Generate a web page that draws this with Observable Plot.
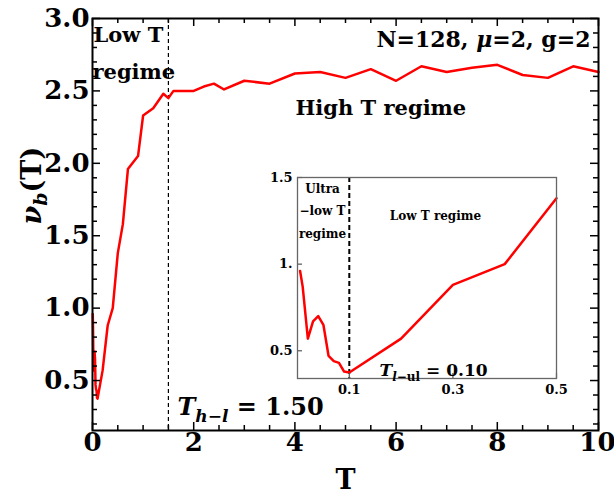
<!DOCTYPE html>
<html>
<head>
<meta charset="utf-8">
<script src="https://cdn.jsdelivr.net/npm/d3@7"></script>
<script src="https://cdn.jsdelivr.net/npm/@observablehq/plot@0.6"></script>
<style>
  html, body { margin: 0; padding: 0; background: #fff; }
  #wrap { position: relative; width: 614px; height: 497px; }
  #inset { position: absolute; left: 250px; top: 160px; }
</style>
</head>
<body>
<div id="wrap"><div id="main"></div><div id="inset"></div></div>
<script>
// ---- data ----
const T = [0.005, 0.01, 0.02, 0.03, 0.04, 0.05, 0.06, 0.07, 0.08, 0.09, 0.1,
  0.2, 0.3, 0.4, 0.5, 0.6, 0.7, 0.9, 1.0, 1.2, 1.4, 1.5, 1.6, 2.0, 2.2, 2.4, 2.6,
  3.0, 3.5, 4.0, 4.5, 5.0, 5.5, 6.0, 6.5, 7.0, 7.5, 8.0, 8.5, 9.0, 9.5, 10.0];
const vb = [0.96, 0.87, 0.57, 0.67, 0.70, 0.65, 0.47, 0.44, 0.43, 0.38, 0.375,
  0.57, 0.88, 1.00, 1.38, 1.58, 1.96, 2.05, 2.33, 2.38, 2.48, 2.45, 2.50, 2.50, 2.53, 2.55, 2.51,
  2.57, 2.55, 2.62, 2.63, 2.59, 2.65, 2.57, 2.67, 2.63, 2.66, 2.68, 2.61, 2.59, 2.67, 2.63];

const xMajor = [0, 2, 4, 6, 8, 10];
const xMinor = [0.5, 1, 1.5, 2.5, 3, 3.5, 4.5, 5, 5.5, 6.5, 7, 7.5, 8.5, 9, 9.5];
const yMajor = [0.5, 1.0, 1.5, 2.0, 2.5, 3.0];
const yMinor = [0.2, 0.3, 0.4, 0.6, 0.7, 0.8, 0.9, 1.1, 1.2, 1.3, 1.4, 1.6, 1.7, 1.8, 1.9,
  2.1, 2.2, 2.3, 2.4, 2.6, 2.7, 2.8, 2.9];
const insetX = [0.1, 0.3, 0.5];
const insetXLabels = ["0.1", "0.3", "0.5"];
const insetY = [0.5, 1.0, 1.5];
const insetYLabels = ["0.5", "1.", "1.5"];

const Thl = 1.5;   // high-low boundary
const Tlul = 0.1;  // low-ultralow boundary

const data = T.map((t, i) => ({T: t, v: vb[i]}));
const insetData = data.filter(d => d.T <= 0.5);

const FONT = "DejaVu Serif";

// ---- main chart ----
const W = 614, H = 497, mL = 92, mR = 16, mT = 18, mB = 67;
const pH = H - mT - mB, pW = W - mL - mR;
const xInner = xMajor.slice(0, -1), xLast = xMajor.slice(-1);

const main = Plot.plot({
  width: W, height: H, marginLeft: mL, marginRight: mR, marginTop: mT, marginBottom: mB,
  x: {domain: [0, 10]},
  y: {domain: [0.155, 3.0]},
  style: {fontFamily: FONT, fontWeight: "bold", fontSize: "26px", background: "white", color: "black", overflow: "visible"},
  marks: [
    Plot.ruleX([Thl], {stroke: "black", strokeWidth: 1.2, strokeDasharray: "4,3"}),
    Plot.line(data, {x: "T", y: "v", stroke: "#ff0000", strokeWidth: 2.5}),
    // inward ticks: bottom & top
    Plot.tickX(xMajor, {x: d => d, insetTop: pH - 8, stroke: "black", strokeWidth: 1.5}),
    Plot.tickX(xMinor, {x: d => d, insetTop: pH - 5, stroke: "black", strokeWidth: 1.5}),
    Plot.tickX(xMajor, {x: d => d, insetBottom: pH - 8, stroke: "black", strokeWidth: 1.5}),
    Plot.tickX(xMinor, {x: d => d, insetBottom: pH - 5, stroke: "black", strokeWidth: 1.5}),
    // inward ticks: left & right
    Plot.tickY(yMajor, {y: d => d, insetRight: pW - 8, stroke: "black", strokeWidth: 1.5}),
    Plot.tickY(yMinor, {y: d => d, insetRight: pW - 5, stroke: "black", strokeWidth: 1.5}),
    Plot.tickY(yMajor, {y: d => d, insetLeft: pW - 8, stroke: "black", strokeWidth: 1.5}),
    Plot.tickY(yMinor, {y: d => d, insetLeft: pW - 5, stroke: "black", strokeWidth: 1.5}),
    Plot.axisX(xInner, {tickSize: 0, tickPadding: 2, tickFormat: d => String(d), label: null, fontSize: 26, fontWeight: "bold"}),
    Plot.axisX(xLast, {tickSize: 0, tickPadding: 2, tickFormat: d => String(d), label: null, fontSize: 26, fontWeight: "bold", textAnchor: "end", dx: 17}),
    Plot.axisY(yMajor, {tickSize: 0, tickPadding: 3, tickFormat: d3.format(".1f"), label: null, fontSize: 26, fontWeight: "bold"}),
    Plot.frame({stroke: "black", strokeWidth: 2}),
    // axis titles
    Plot.text(["T"], {frameAnchor: "bottom", dy: 58, fontSize: 27, fontWeight: "bold"}),
    Plot.text(["@YLAB"], {frameAnchor: "left", dx: -60, rotate: -90, fontSize: 27, fontWeight: "bold"}),
    // annotations
    Plot.text(["Low T"], {frameAnchor: "top-left", dx: 1, dy: 9, textAnchor: "start", fontSize: 21, fontWeight: "bold"}),
    Plot.text(["regime"], {frameAnchor: "top-left", dx: 0, dy: 46, textAnchor: "start", fontSize: 21, fontWeight: "bold"}),
    Plot.text(["N=128, @MU=2, g=2"], {frameAnchor: "top-right", dx: -8, dy: 13, textAnchor: "end", fontSize: 22, fontWeight: "bold"}),
    Plot.text(["High T regime"], {frameAnchor: "top-left", dx: 203, dy: 82, textAnchor: "start", fontSize: 21, fontWeight: "bold"}),
    Plot.text(["@THL"], {frameAnchor: "bottom-left", dx: 85, dy: -16, textAnchor: "start", fontSize: 24, fontWeight: "bold"})
  ]
});
document.getElementById("main").appendChild(main);

// ---- inset ----
const iW = 320, iH = 240, imL = 47, imR = 14, imT = 17, imB = 22;
const ipH = iH - imT - imB, ipW = iW - imL - imR;
const inset = Plot.plot({
  width: iW, height: iH, marginLeft: imL, marginRight: imR, marginTop: imT, marginBottom: imB,
  x: {domain: [0, 0.5]},
  y: {domain: [0.34, 1.5]},
  style: {fontFamily: FONT, fontWeight: "bold", fontSize: "13px", background: "transparent", color: "black", overflow: "visible"},
  marks: [
    Plot.frame({fill: "white", stroke: "none"}),
    Plot.ruleX([Tlul], {stroke: "black", strokeWidth: 2, strokeDasharray: "5,3"}),
    Plot.line(insetData, {x: "T", y: "v", stroke: "#ff0000", strokeWidth: 2.5}),
    Plot.tickX(insetX, {x: d => d, insetTop: ipH - 5, stroke: "#555", strokeWidth: 1.2}),
    Plot.tickY(insetY, {y: d => d, insetRight: ipW - 5, stroke: "#555", strokeWidth: 1.2}),
    Plot.axisX(insetX, {tickSize: 0, tickPadding: 6, tickFormat: (d, i) => insetXLabels[i], label: null, fontSize: 13, fontWeight: "bold"}),
    Plot.axisY(insetY, {tickSize: 0, tickPadding: 5, tickFormat: (d, i) => insetYLabels[i], label: null, fontSize: 13, fontWeight: "bold"}),
    Plot.frame({stroke: "#666", strokeWidth: 1.3}),
    Plot.text(["Ultra"], {frameAnchor: "top-left", dx: 25, dy: 7, textAnchor: "middle", fontSize: 12, fontWeight: "bold"}),
    Plot.text(["\u2212low T"], {frameAnchor: "top-left", dx: 25, dy: 29, textAnchor: "middle", fontSize: 12, fontWeight: "bold"}),
    Plot.text(["regime"], {frameAnchor: "top-left", dx: 25, dy: 52, textAnchor: "middle", fontSize: 12, fontWeight: "bold"}),
    Plot.text(["Low T regime"], {frameAnchor: "top-left", dx: 138, dy: 34, textAnchor: "middle", fontSize: 12, fontWeight: "bold"}),
    Plot.text(["@TLUL"], {frameAnchor: "bottom-left", dx: 82, dy: -3, textAnchor: "start", fontSize: 17, fontWeight: "bold"})
  ]
});
document.getElementById("inset").appendChild(inset);

// ---- rich text post-processing ----
function rich(svg, key, parts) {
  d3.select(svg).selectAll("text").filter(function () { return this.textContent === key; }).each(function () {
    const t = d3.select(this);
    t.text(null);
    for (const p of parts) {
      const s = t.append("tspan").text(p.t);
      if (p.italic) s.attr("font-style", "italic");
      if (p.size) s.attr("font-size", p.size);
      if (p.dy) s.attr("dy", p.dy);
    }
  });
}
rich(main, "@YLAB", [
  {t: "\u03BD", italic: true},
  {t: "b", italic: true, size: 19, dy: 6},
  {t: "(T)", dy: -6}
]);
rich(main, "N=128, @MU=2, g=2", [
  {t: "N=128, "}, {t: "\u03BC", italic: true}, {t: "=2, g=2"}
]);
rich(main, "@THL", [
  {t: "T", italic: true},
  {t: "h\u2212l", italic: true, size: 17, dy: 7},
  {t: " = 1.50", dy: -7}
]);
rich(inset, "@TLUL", [
  {t: "T", italic: true},
  {t: "l", italic: true, size: 12, dy: 5},
  {t: "\u2212ul", size: 12},
  {t: " = 0.10", dy: -5}
]);
</script>
</body>
</html>
